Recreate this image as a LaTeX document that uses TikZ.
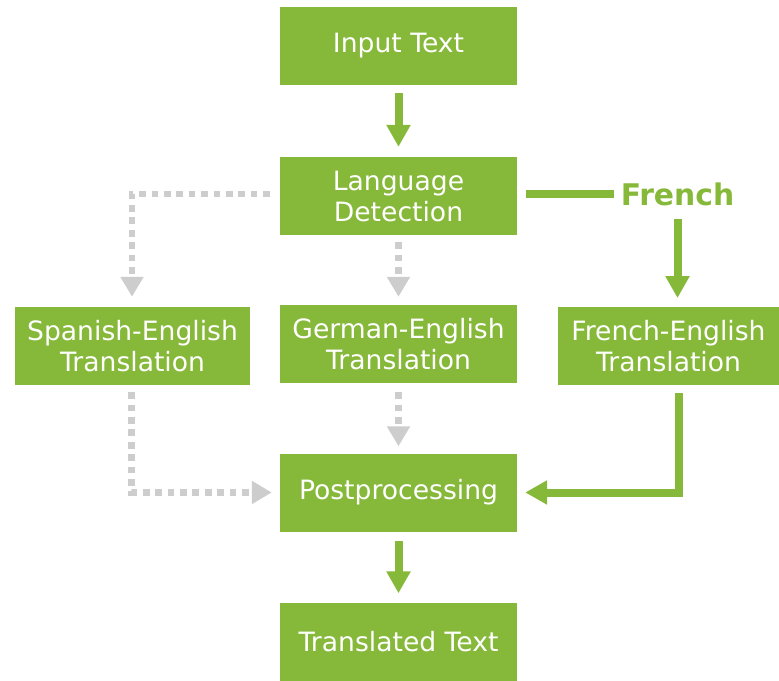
\documentclass[tikz,border=0pt]{standalone}
\usepackage{fontspec}
\setmainfont{DejaVu Sans}
\usetikzlibrary{arrows.meta}
\definecolor{nvgreen}{HTML}{86B83A}
\definecolor{lightgray}{HTML}{CDCDCD}
\tikzset{
  stage/.style={fill=nvgreen, text=white, minimum width=237pt, minimum height=78pt,
    inner sep=0pt, align=center, font=\fontsize{26.6}{31}\selectfont},
  garrow/.style={draw=nvgreen, line width=8pt, -{Triangle[width=23pt,length=22pt]}},
  gline/.style={draw=nvgreen, line width=8pt},
  darrow/.style={draw=lightgray, line width=6.5pt, dash pattern=on 6.7pt off 5.7pt,
    -{Triangle[width=22pt,length=20pt]}},
}
\begin{document}
\begin{tikzpicture}[x=1pt,y=-1pt]
  \useasboundingbox (0,0) rectangle (779,680);
  % pipeline stages
  \node[stage] (in)   at (398.5,46)  {Input Text};
  \node[stage] (ld)   at (398.5,196) {Language\\Detection};
  \node[stage, minimum width=235pt] (sp) at (132.5,346) {Spanish-English\\Translation};
  \node[stage] (ge)   at (398.5,344) {German-English\\Translation};
  \node[stage, minimum width=221pt] (fe) at (668.5,346) {French-English\\Translation};
  \node[stage] (post) at (398.5,492.5) {Postprocessing};
  \node[stage] (out)  at (398.5,641.5) {Translated Text};
  % detected language label
  \node[text=nvgreen, font=\fontsize{29.8}{34}\selectfont\bfseries, inner sep=3pt] (fr) at (677.5,194) {French};

  % main path
  \draw[garrow] ([yshift=-8pt]in.south) -- ([yshift=10pt]ld.north);
  \draw[gline] ([xshift=9pt,yshift=2pt]ld.east) -- ([xshift=-4pt]fr.west |- 0,194);
  \draw[garrow] (fr.south |- 0,219) -- (fr.south |- 0,298);
  \draw[garrow] ([xshift=10pt,yshift=-8pt]fe.south) |- ([xshift=8pt]post.east);
  \draw[garrow] ([yshift=-9pt]post.south) -- ([yshift=9pt]out.north);

  % inactive branches
  \draw[darrow] ([xshift=-10pt,yshift=2pt]ld.west) -| ([xshift=-0.5pt,yshift=10pt]sp.north);
  \draw[darrow] ([yshift=-7pt]ld.south) -- ([yshift=8pt]ge.north);
  \draw[darrow] ([xshift=-1pt,yshift=-7pt]sp.south) |- ([xshift=-8pt]post.west);
  \draw[darrow] ([yshift=-9pt]ge.south) -- ([yshift=7pt]post.north);
\end{tikzpicture}
\end{document}
